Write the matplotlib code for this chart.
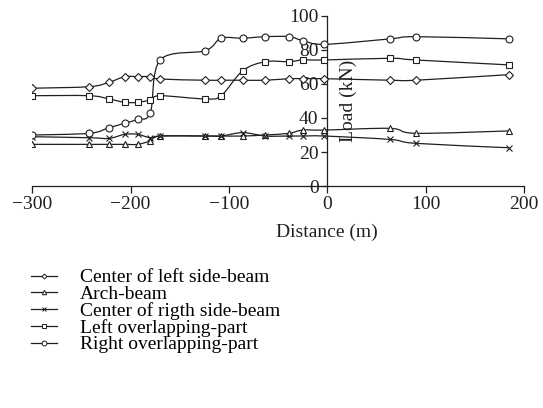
import matplotlib.pyplot as plt
from matplotlib.lines import Line2D
from matplotlib.path import Path
from matplotlib.patches import PathPatch

plt.rcParams['font.family'] = ['Liberation Serif', 'DejaVu Serif']

distance = [-300, -242, -222, -206, -193, -180, -170, -124, -108, -86, -63, -39, -25, -3, 64, 90, 185]

left_side = [57.5, 58.4, 61.0, 64.3, 64.3, 64.3, 62.9, 62.2, 62.2, 62.2, 62.2, 63.1, 63.1, 63.1, 62.2, 62.2, 65.5]
arch = [24.5, 24.5, 24.5, 24.5, 24.5, 26.5, 29.4, 29.4, 29.4, 29.4, 30.0, 31.0, 32.9, 32.9, 33.9, 31.0, 32.4]
right_side = [29.0, 28.4, 28.0, 30.4, 30.4, 28.4, 29.4, 29.4, 29.4, 31.4, 29.4, 29.4, 29.4, 29.4, 27.4, 25.1, 22.5]
left_overlap = [53.1, 53.1, 51.2, 49.2, 49.2, 50.6, 53.1, 51.2, 53.1, 67.8, 73.1, 73.1, 74.1, 74.1, 75.1, 74.1, 71.2]
right_overlap = [30.0, 31.0, 34.3, 36.9, 39.2, 43.1, 74.1, 79.6, 86.9, 86.9, 87.8, 87.8, 85.5, 83.3, 86.5, 87.8, 86.5]

series = [
    ('Center of left side-beam', left_side, 'D', 3.6),
    ('Arch-beam', arch, '^', 4.6),
    ('Center of rigth side-beam', right_side, 'x', 5.0),
    ('Left overlapping-part', left_overlap, 's', 4.4),
    ('Right overlapping-part', right_overlap, 'o', 5.0),
]

ink = '#231f20'


def smooth_path(xs, ys):
    # excel-like smoothed line: cubic bezier through each pair of points
    verts = [(xs[0], ys[0])]
    codes = [Path.MOVETO]
    n = len(xs)
    for i in range(n - 1):
        x0, y0 = (xs[i - 1], ys[i - 1]) if i > 0 else (xs[i], ys[i])
        x1, y1 = xs[i], ys[i]
        x2, y2 = xs[i + 1], ys[i + 1]
        x3, y3 = (xs[i + 2], ys[i + 2]) if i + 2 < n else (x2, y2)
        c1 = (x1 + (x2 - x0) / 6, y1 + (y2 - y0) / 6)
        c2 = (x2 - (x3 - x1) / 6, y2 - (y3 - y1) / 6)
        verts += [c1, c2, (x2, y2)]
        codes += [Path.CURVE4] * 3
    return Path(verts, codes)


fig = plt.figure(figsize=(5.43, 4.08), dpi=100)
ax = fig.add_axes([0.0595, 0.544, 0.9055, 0.417])

handles = []
for label, vals, mk, ms in series:
    ax.add_patch(PathPatch(smooth_path(distance, vals), fill=False, edgecolor=ink, lw=0.9, zorder=2))
    ax.plot(distance, vals, linestyle='none', marker=mk, ms=ms, mfc='white', mec=ink, mew=0.8, zorder=3)
    handles.append(Line2D([], [], color=ink, lw=0.9, marker=mk, ms=ms * 0.7, mfc='white', mec=ink, mew=0.7, label=label))

ax.set_xlim(-300, 200)
ax.set_ylim(0, 100)
ax.set_xticks([-300, -200, -100, 0, 100, 200])
ax.set_yticks([0, 20, 40, 60, 80, 100])

ax.spines['left'].set_position(('data', 0))
ax.spines['right'].set_visible(False)
ax.spines['top'].set_visible(False)
for s in ('left', 'bottom'):
    ax.spines[s].set_color(ink)
    ax.spines[s].set_linewidth(0.9)

ax.tick_params(axis='x', direction='out', length=5, width=0.9, pad=2, labelsize=14, colors=ink)
ax.tick_params(axis='y', direction='out', length=4.3, width=0.9, pad=2, labelsize=14, colors=ink)

ax.set_xlabel('Distance (m)', fontsize=14, color=ink)
ax.xaxis.set_label_coords(0.6, -0.22)
ax.set_ylabel('Load (kN)', fontsize=14, color=ink)
ax.yaxis.set_label_coords(0.66, 0.5)

fig.legend(handles=handles, loc='upper left', bbox_to_anchor=(0.04, 0.365), frameon=False,
           fontsize=14, handlelength=1.3, handletextpad=1.2, labelspacing=-0.05, borderpad=0)

fig.savefig('out.png', dpi=100)
